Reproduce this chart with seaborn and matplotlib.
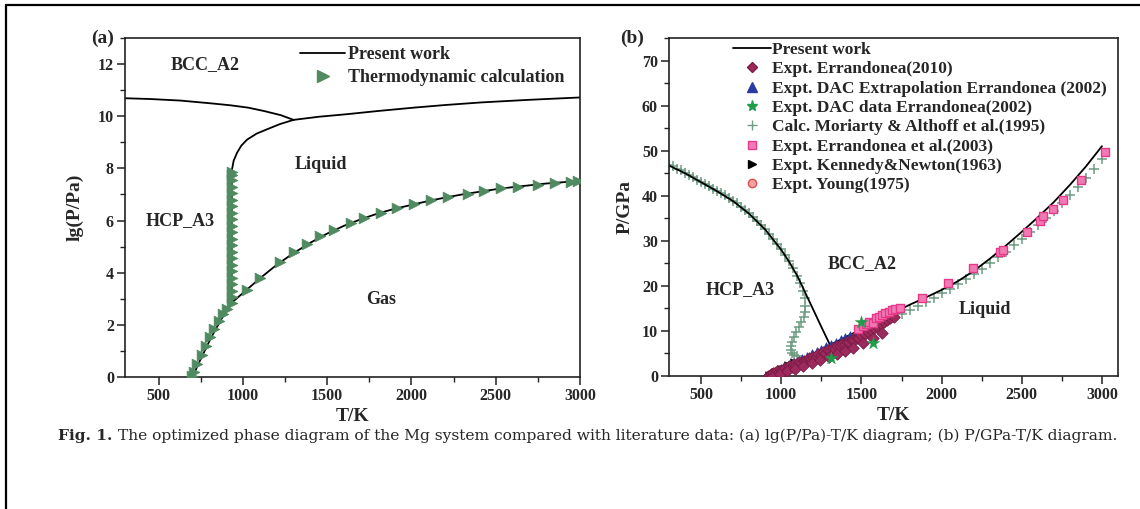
import matplotlib
matplotlib.use("Agg")
import matplotlib.pyplot as plt
from matplotlib.lines import Line2D
from matplotlib.ticker import MultipleLocator
import seaborn as sns

# ---------------- Panel (a): lg(P/Pa) vs T/K ----------------
a_hcp_bcc_T = [300, 450, 630, 800, 925, 1030, 1125, 1225, 1300]
a_hcp_bcc_lg = [10.69, 10.66, 10.60, 10.50, 10.42, 10.33, 10.20, 10.04, 9.86]

a_bcc_liq_T = [1300, 1450, 1620, 1800, 2015, 2200, 2415, 2700, 3000]
a_bcc_liq_lg = [9.86, 9.98, 10.08, 10.20, 10.33, 10.43, 10.53, 10.63, 10.72]

a_melt_T = [933, 933.5, 934, 935, 945, 965, 990, 1024, 1080, 1143, 1220, 1300]
a_melt_lg = [2.85, 5.0, 7.0, 7.96, 8.30, 8.60, 8.87, 9.10, 9.33, 9.50, 9.70, 9.86]

a_vap_T = [700, 720, 750, 780, 810, 840, 870, 900, 933, 1000, 1100, 1200, 1300, 1400,
           1500, 1600, 1700, 1800, 1900, 2000, 2100, 2200, 2300, 2400, 2500, 2600,
           2700, 2800, 2900, 3000]
a_vap_lg = [0.0, 0.28, 0.70, 1.10, 1.50, 1.85, 2.20, 2.52, 2.85, 3.22, 3.78, 4.30, 4.75,
            5.15, 5.50, 5.80, 6.05, 6.27, 6.45, 6.60, 6.75, 6.88, 7.00, 7.10, 7.20, 7.28,
            7.35, 7.42, 7.47, 7.52]

a_calc_T = [700, 710, 730, 755, 780, 805, 830, 855, 880, 905, 932,
            1024, 1103, 1222, 1302, 1381, 1460, 1540, 1639, 1718, 1817, 1917, 2016,
            2115, 2214, 2333, 2433, 2532, 2631, 2750, 2849, 2948, 2988,
            932, 932, 932, 932, 932, 932, 932, 932, 932, 932, 932, 932, 932, 932, 932,
            932, 932, 932, 932, 932, 932]
a_calc_lg = [0.05, 0.20, 0.50, 0.85, 1.20, 1.55, 1.85, 2.15, 2.40, 2.62, 2.82,
             3.35, 3.80, 4.40, 4.78, 5.10, 5.40, 5.62, 5.90, 6.08, 6.30, 6.48, 6.62,
             6.77, 6.90, 7.03, 7.13, 7.23, 7.30, 7.38, 7.44, 7.49, 7.50,
             3.05, 3.30, 3.55, 3.80, 4.05, 4.30, 4.55, 4.80, 5.05, 5.30, 5.55, 5.80,
             6.05, 6.30, 6.55, 6.80, 7.05, 7.30, 7.55, 7.75, 7.85]

# ---------------- Panel (b): P/GPa vs T/K ----------------
b_hcp_bcc_T = [300, 400, 500, 600, 700, 800, 900, 1000, 1050, 1100, 1130, 1160, 1200, 1250, 1304]
b_hcp_bcc_P = [46.7, 45.0, 43.0, 41.0, 38.8, 36.0, 32.5, 28.0, 25.3, 22.2, 20.0, 17.7, 14.7, 10.9, 6.9]

b_melt_T = [920, 1000, 1100, 1200, 1304, 1400, 1500, 1600, 1700, 1800, 1900, 2000, 2100,
            2200, 2300, 2400, 2500, 2600, 2700, 2800, 2900, 3000]
b_melt_P = [0.0, 1.5, 3.3, 5.0, 6.9, 8.6, 10.4, 12.2, 14.0, 15.8, 17.4, 19.1, 21.0, 23.3,
            26.0, 28.9, 32.0, 35.2, 38.6, 42.4, 46.5, 51.0]

b_err2010_T = [920, 930, 945, 950, 965, 975, 985, 1000, 1010, 1025, 1040, 1050, 1065, 1080,
               1095, 1110, 1125, 1140, 1155, 1170, 1185, 1200, 1215, 1230, 1245, 1260, 1275,
               1290, 1305, 1320, 1335, 1350, 1365, 1380, 1395, 1410, 1425, 1440, 1455, 1470,
               1485, 1500, 1520, 1540, 1560, 1580, 1600, 1620, 1640, 1660, 1680, 1700,
               940, 990, 1035, 1085, 1135, 1190, 1240, 1295, 1345, 1400, 1450, 1510, 1570, 1630]
b_err2010_P = [0.0, 0.3, 0.2, 0.7, 0.5, 1.0, 0.8, 1.4, 1.1, 1.8, 1.5, 2.2, 2.0, 2.6, 2.4, 3.0,
               2.9, 3.4, 3.3, 3.9, 3.7, 4.3, 4.2, 4.8, 4.7, 5.3, 5.1, 5.8, 5.6, 6.2, 6.1, 6.7,
               6.6, 7.1, 7.0, 7.6, 7.5, 8.0, 8.0, 8.5, 8.4, 9.0, 9.3, 9.8, 10.1, 10.6, 11.0,
               11.5, 11.9, 12.4, 12.8, 13.2,
               -0.2, 0.4, 1.0, 1.6, 2.3, 2.9, 3.5, 4.2, 4.8, 5.6, 6.3, 7.3, 8.4, 9.6]

b_dacext_T = [950, 980, 1010, 1040, 1070, 1100, 1130, 1160, 1190, 1220, 1250, 1280, 1310,
              1340, 1370, 1400, 1430, 1460, 1490, 1520]
b_dacext_P = [0.9, 1.4, 1.9, 2.4, 2.9, 3.4, 3.9, 4.5, 5.0, 5.5, 6.0, 6.6, 7.1, 7.6, 8.1,
              8.6, 9.1, 9.6, 10.1, 10.6]

b_dac_T = [1310, 1500, 1570]
b_dac_P = [4.0, 12.0, 7.4]

b_mor_T = [300, 325, 350, 375, 400, 425, 450, 475, 500, 525, 550, 575, 600, 625, 650, 675,
           700, 725, 750, 775, 800, 825, 850, 875, 900, 925, 950, 975, 1000, 1025, 1050,
           1075, 1100, 1120, 1135, 1145, 1150, 1148, 1140, 1125, 1110, 1095, 1080, 1068,
           1060, 1058, 1065, 1080, 1100,
           1650, 1700, 1750, 1800, 1850, 1900, 1950, 2000, 2050, 2100, 2150, 2200, 2250,
           2300, 2350, 2400, 2450, 2500, 2550, 2600, 2650, 2700, 2750, 2800, 2850, 2900,
           2950, 3000]
b_mor_P = [46.9, 46.5, 46.0, 45.6, 45.1, 44.6, 44.1, 43.6, 43.1, 42.6, 42.1, 41.6, 41.1,
           40.6, 40.1, 39.5, 38.9, 38.3, 37.6, 36.9, 36.1, 35.3, 34.4, 33.5, 32.6, 31.6,
           30.5, 29.4, 28.2, 26.9, 25.5, 24.0, 22.3, 20.6, 18.9, 17.2, 15.6, 14.2, 13.0,
           11.9, 10.8, 9.8, 8.7, 7.6, 6.6, 5.7, 5.0, 4.6, 4.5,
           12.2, 12.9, 13.7, 14.6, 15.5, 16.4, 17.4, 18.4, 19.4, 20.4, 21.5, 22.6, 23.8,
           25.0, 26.3, 27.6, 29.0, 30.4, 31.9, 33.4, 35.0, 36.7, 38.4, 40.2, 42.0, 44.0,
           46.0, 48.2]

b_err2003_T = [1480, 1510, 1530, 1550, 1572, 1590, 1610, 1630, 1650, 1670, 1690, 1710, 1740,
               1878, 2040, 2196, 2364, 2383, 2532, 2615, 2633, 2695, 2757, 2871, 3019]
b_err2003_P = [10.5, 11.2, 11.6, 12.0, 11.7, 12.8, 13.1, 13.6, 14.0, 14.3, 14.6, 14.9, 15.1,
               17.3, 20.6, 24.0, 27.6, 28.0, 31.9, 34.3, 35.4, 37.0, 39.0, 43.6, 49.8]

b_kn_T = [925, 960, 1000, 1040, 1080]
b_kn_P = [0.2, 0.9, 1.6, 2.4, 3.1]

b_young_T = [920, 935, 950, 970, 990]
b_young_P = [0.0, 0.4, 0.8, 1.2, 1.6]

labels_b = ["Present work", "Expt. Errandonea(2010)",
            "Expt. DAC Extrapolation Errandonea (2002)", "Expt. DAC data Errandonea(2002)",
            "Calc. Moriarty & Althoff et al.(1995)", "Expt. Errandonea et al.(2003)",
            "Expt. Kennedy&Newton(1963)", "Expt. Young(1975)"]
labels_a = ["Present work", "Thermodynamic calculation"]
caption = ("The optimized phase diagram of the Mg system compared with literature data: "
           "(a) lg(P/Pa)-T/K diagram; (b) P/GPa-T/K diagram.")

# ---------------- style ----------------
sns.set_theme(style="ticks")
plt.rcParams['font.family'] = ['Liberation Serif', 'DejaVu Serif']
plt.rcParams['font.weight'] = 'bold'
plt.rcParams['axes.labelweight'] = 'bold'

W, H = 1140, 509
fig = plt.figure(figsize=(W / 100, H / 100), dpi=100)
fig.patch.set_facecolor('white')

def px_axes(l, t, r, b):
    return fig.add_axes([l / W, 1 - b / H, (r - l) / W, (b - t) / H])

axA = px_axes(125, 38, 580, 377)
axB = px_axes(669, 38, 1118, 376)

GREEN_A = '#4f8a60'
for ax in (axA, axB):
    ax.set_facecolor('white')
    for s in ax.spines.values():
        s.set_linewidth(1.2)
        s.set_color('#222222')
    ax.tick_params(which='major', direction='out', length=6, width=1.1, labelsize=11.5,
                   color='#222222', pad=2)
    ax.tick_params(which='minor', direction='out', length=3.5, width=1.0, color='#222222')
    ax.xaxis.set_minor_locator(MultipleLocator(250))
    ax.xaxis.set_major_locator(MultipleLocator(500))

# ---- panel (a)
kw_line = dict(color='black', linewidth=1.3, sort=False, estimator=None, legend=False)
sns.lineplot(x=a_hcp_bcc_T, y=a_hcp_bcc_lg, ax=axA, **kw_line)
sns.lineplot(x=a_bcc_liq_T, y=a_bcc_liq_lg, ax=axA, **kw_line)
sns.lineplot(x=a_melt_T, y=a_melt_lg, ax=axA, **kw_line)
sns.lineplot(x=a_vap_T, y=a_vap_lg, ax=axA, **kw_line)
sns.scatterplot(x=a_calc_T, y=a_calc_lg, ax=axA, marker='>', s=60, color=GREEN_A,
                edgecolor=GREEN_A, linewidth=0.5, legend=False, zorder=3)

axA.set_xlim(300, 3000)
axA.set_ylim(0, 13)
axA.yaxis.set_major_locator(MultipleLocator(2))
axA.yaxis.set_minor_locator(MultipleLocator(1))
axA.set_xlabel('T/K', fontsize=14, fontweight='bold', labelpad=3)
axA.set_ylabel('lg(P/Pa)', fontsize=14, fontweight='bold', labelpad=10)

for txt, x, y in [("BCC_A2", 776, 12.0), ("Liquid", 1461, 8.15),
                  ("HCP_A3", 627, 6.0), ("Gas", 1818, 2.96)]:
    axA.text(x, y, txt, fontsize=13, fontweight='bold', ha='center', va='center')

hA = [Line2D([], [], color='black', lw=1.3),
      Line2D([], [], color=GREEN_A, marker='>', ls='none', ms=8)]
axA.legend(hA, labels_a, loc='upper left', bbox_to_anchor=(0.385, 0.976), frameon=False,
           prop={'weight': 'bold', 'size': 13}, handlelength=2.5, handletextpad=0.15,
           labelspacing=0.35, borderpad=0, borderaxespad=0)

# ---- panel (b)
C_DIA = '#9c2a5c'
C_TRI = '#2b3aa0'
C_STAR = '#1e9e4a'
C_PLUS = '#6e9c82'
C_SQ = '#e8388a'
C_YOUNG = '#e0504a'

sns.scatterplot(x=b_mor_T, y=b_mor_P, ax=axB, marker='+', s=50, color=C_PLUS,
                linewidth=1.1, legend=False, zorder=2)
sns.lineplot(x=b_hcp_bcc_T, y=b_hcp_bcc_P, ax=axB, **kw_line)
sns.lineplot(x=b_melt_T, y=b_melt_P, ax=axB, **kw_line)
sns.scatterplot(x=b_young_T, y=b_young_P, ax=axB, marker='o', s=30, color='#f2a0a0',
                edgecolor=C_YOUNG, linewidth=1.0, legend=False, zorder=3)
sns.scatterplot(x=b_kn_T, y=b_kn_P, ax=axB, marker='>', s=30, color='black',
                edgecolor='black', legend=False, zorder=3)
sns.scatterplot(x=b_dacext_T, y=b_dacext_P, ax=axB, marker='^', s=30, color=C_TRI,
                edgecolor=C_TRI, linewidth=0.5, legend=False, zorder=4)
sns.scatterplot(x=b_err2010_T, y=b_err2010_P, ax=axB, marker='D', s=34, color=C_DIA,
                edgecolor='#7a1a45', linewidth=0.6, legend=False, zorder=5, clip_on=True)
sns.scatterplot(x=b_err2003_T, y=b_err2003_P, ax=axB, marker='s', s=38, color='#f07ab4',
                edgecolor=C_SQ, linewidth=1.0, legend=False, zorder=6)
sns.scatterplot(x=b_dac_T, y=b_dac_P, ax=axB, marker='*', s=90, color=C_STAR,
                edgecolor=C_STAR, linewidth=0.3, legend=False, zorder=7)

axB.set_xlim(300, 3100)
axB.set_ylim(0, 75)
axB.yaxis.set_major_locator(MultipleLocator(10))
axB.yaxis.set_minor_locator(MultipleLocator(5))
axB.set_xlabel('T/K', fontsize=14, fontweight='bold', labelpad=3)
axB.set_ylabel('P/GPa', fontsize=14, fontweight='bold', labelpad=6)

for txt, x, y in [("HCP_A3", 743, 19.1), ("BCC_A2", 1504, 24.9), ("Liquid", 2271, 14.7)]:
    axB.text(x, y, txt, fontsize=13, fontweight='bold', ha='center', va='center')

hB = [Line2D([], [], color='black', lw=1.3),
      Line2D([], [], marker='D', ls='none', color=C_DIA, mec='#7a1a45', ms=5.5),
      Line2D([], [], marker='^', ls='none', color=C_TRI, ms=6.5),
      Line2D([], [], marker='*', ls='none', color=C_STAR, ms=8),
      Line2D([], [], marker='+', ls='none', color=C_PLUS, ms=7, mew=1.0),
      Line2D([], [], marker='s', ls='none', color='#f07ab4', mec=C_SQ, ms=6),
      Line2D([], [], marker='>', ls='none', color='black', ms=6),
      Line2D([], [], marker='o', ls='none', color='#f2a0a0', mec=C_YOUNG, ms=6)]
axB.legend(hB, labels_b, loc='upper left', bbox_to_anchor=(0.143, 0.988), frameon=False,
           prop={'weight': 'bold', 'size': 12.5}, handlelength=2.2, handletextpad=0.05,
           labelspacing=0.18, borderpad=0, borderaxespad=0)

# panel letters
fig.text(103 / W, 1 - 38 / H, "(a)", fontsize=14, fontweight='bold', ha='center', va='center')
fig.text(632 / W, 1 - 38 / H, "(b)", fontsize=14, fontweight='bold', ha='center', va='center')

# caption
yc = 1 - 436 / H
capB = fig.text(58 / W, yc, "Fig. 1.", fontsize=10.5, fontweight='bold',
                family=['DejaVu Serif'], ha='left', va='center')
cap = fig.text(118 / W, yc, caption, fontsize=10.5, fontweight='normal',
               family=['DejaVu Serif'], ha='left', va='center')
fig.canvas.draw()
r = fig.canvas.get_renderer()
w = cap.get_window_extent(r).width
fs = 10.5 * (1125 - 118) / w
cap.set_fontsize(fs)
capB.set_fontsize(fs)

# page frame lines
fig.add_artist(Line2D([6 / W, 1], [1 - 5 / H, 1 - 5 / H], transform=fig.transFigure,
                      color='black', lw=1.6))
fig.add_artist(Line2D([6 / W, 6 / W], [0, 1 - 5 / H], transform=fig.transFigure,
                      color='black', lw=1.6))

fig.savefig("out.png", dpi=100, facecolor='white')
